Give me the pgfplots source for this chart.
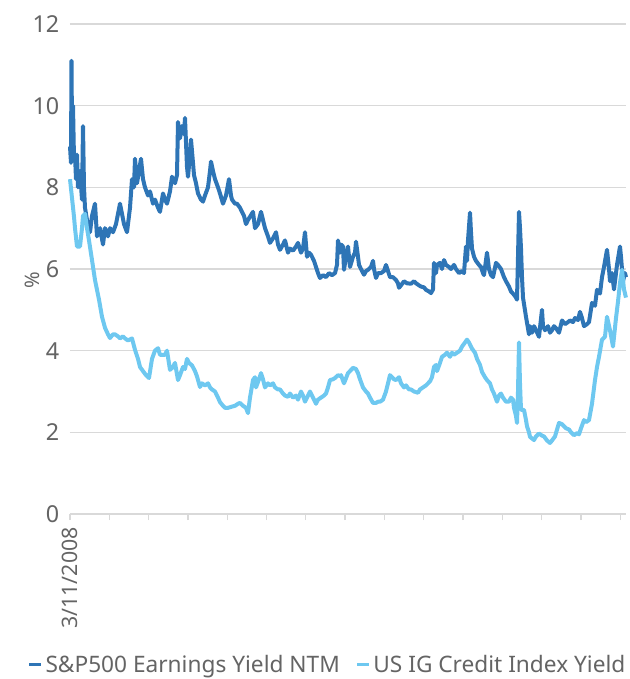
\documentclass[border=0pt]{standalone}
\usepackage{pgfplots}
\pgfplotsset{compat=1.18}
\usepackage{fontspec}
\setmainfont{Noto Sans}
\definecolor{darkblue}{RGB}{46,117,182}
\definecolor{lightblue}{RGB}{110,200,240}
\definecolor{txtgray}{RGB}{100,100,100}
\definecolor{gridgray}{RGB}{217,217,217}
\begin{document}
\begin{tikzpicture}
\begin{axis}[
  scale only axis,
  width=417pt, height=367.5pt,
  xmin=0, xmax=556, ymin=0, ymax=12,
  axis x line*=bottom,
  axis y line*=left,
  x axis line style={gridgray, line width=1.1pt},
  y axis line style={draw=none},
  /pgf/number format/assume math mode=true,
  ytick={0,2,4,6,8,10,12},
  ytick style={draw=none},
  ymajorgrids,
  grid style={gridgray, line width=1.1pt},
  xtick={0,39.3,78.6,117.9,157.2,196.5,235.8,275.1,314.4,353.7,393,432.3,471.6,510.9,550.2},
  xticklabels={3/11/2008,{},{},{},{},{},{},{},{},{},{},{},{},{},{}},
  xtick style={gridgray, line width=1pt},
  major tick length=4.5pt,
  tick align=outside,
  xticklabel style={rotate=90, anchor=east, font=\fontsize{16}{18}\selectfont, text=txtgray, xshift=-2pt},
  yticklabel style={font=\fontsize{17.5}{20}\selectfont, text=txtgray},
  yticklabel={\pgfmathprintnumber{\tick}},
  ylabel={\%},
  ylabel style={at={(axis description cs:0,0.478)}, anchor=south, yshift=19pt, font=\fontsize{15}{18}\selectfont, text=txtgray},
  legend columns=2,
  legend style={draw=none, fill=none, at={(0.464,-0.308)}, anchor=center, font=\fontsize{17}{19}\selectfont, text=txtgray, /tikz/every even column/.append style={column sep=10pt}, inner sep=0pt},
  legend image code/.code={\draw[#1, line width=2.2pt] (0pt,0pt) -- (9pt,0pt);},
  legend cell align=left,
  every axis plot/.append style={line width=3pt, line join=round},
  clip=false,
]
\addplot[darkblue] coordinates {
(0,9.0)(1,8.6)(1.5,11.1)(2.2,8.7)(3,10.0)(4,8.7)(5,8.8)(6,8.2)(7,8.8)(8,8.0)(10,8.4)(12,7.7)(13,9.5)(14,8.0)(15,7.5)(17,7.2)(20,6.9)(22,7.3)(25,7.6)(27,6.8)(30,7.0)(33,6.6)(35,7.0)(38,6.8)(40,7.0)(43,6.9)(46,7.1)(50,7.6)(54,7.1)(57,6.9)(60,7.5)(62,8.2)(64,8.0)(65,8.7)(67,8.1)(69,8.4)(71,8.7)(73,8.2)(75,8.0)(78,7.8)(80,7.9)(83,7.6)(85,7.7)(88,7.5)(90,7.4)(93,7.85)(95,7.7)(97,7.6)(100,7.9)(102,8.26)(105,8.1)(107,8.3)(108,9.6)(110,9.2)(112,9.5)(114,9.3)(115,9.7)(117,8.5)(118,8.26)(120,8.8)(121,9.17)(123,8.6)(124,8.3)(126,8.1)(128,7.85)(131,7.7)(133,7.65)(135,7.8)(138,8.0)(140,8.4)(141,8.63)(143,8.4)(145,8.2)(148,8.0)(150,7.85)(153,7.6)(156,7.8)(159,8.2)(161,7.8)(162,7.7)(165,7.6)(167,7.6)(170,7.5)(172,7.4)(174,7.3)(176,7.1)(178,7.2)(183,7.4)(185,7.0)(188,7.1)(191,7.4)(195,7.0)(198,6.8)(200,6.64)(203,6.75)(206,6.9)(208,6.6)(210,6.47)(213,6.6)(215,6.7)(218,6.4)(220,6.5)(223,6.45)(226,6.55)(228,6.64)(231,6.4)(233,6.5)(235,6.9)(237,6.3)(239,6.4)(241,6.35)(244,6.2)(246,6.05)(248,5.9)(250,5.78)(253,5.85)(256,5.8)(259,5.9)(262,5.85)(265,5.9)(267,6.1)(268,6.7)(270,6.4)(271,6.6)(273,6.55)(274,5.98)(276,6.3)(278,6.55)(280,6.05)(283,6.3)(285,6.4)(286,6.67)(288,6.3)(289,6.1)(291,6.0)(294,5.86)(296,5.95)(298,5.98)(301,6.05)(303,6.2)(304,6.0)(306,5.78)(308,5.9)(311,5.9)(314,5.95)(316,6.1)(318,5.95)(320,5.8)(323,5.8)(326,5.73)(328,5.65)(329,5.54)(331,5.6)(334,5.7)(337,5.65)(341,5.64)(344,5.7)(346,5.65)(349,5.6)(351,5.57)(354,5.55)(356,5.49)(359,5.45)(361,5.41)(363,5.5)(364,6.15)(366,5.9)(367,6.1)(370,6.15)(372,6.0)(374,6.22)(376,6.1)(379,6.05)(381,6.0)(384,6.1)(386,6.0)(389,5.9)(392,5.95)(394,5.9)(396,6.55)(397,6.2)(398,6.7)(400,7.38)(401,6.9)(402,6.5)(404,6.3)(406,6.2)(409,6.1)(411,6.05)(413,5.9)(414,5.85)(417,6.4)(419,6.0)(421,5.85)(423,5.8)(426,6.15)(428,6.1)(431,6.0)(434,5.8)(436,5.7)(439,5.57)(441,5.45)(444,5.37)(446,5.3)(447,5.25)(448,6.3)(449,7.4)(450,7.0)(451,6.5)(452,5.8)(453,5.3)(456,4.83)(459,4.4)(460,4.6)(462,4.44)(464,4.6)(466,4.5)(469,4.34)(472,5.0)(473,4.6)(475,4.5)(478,4.6)(480,4.44)(482,4.5)(484,4.6)(486,4.55)(489,4.44)(492,4.74)(495,4.65)(498,4.7)(500,4.74)(503,4.7)(505,4.8)(508,4.75)(510,4.95)(512,4.8)(514,4.6)(517,4.65)(519,4.7)(522,5.17)(525,5.1)(527,5.49)(530,5.4)(532,5.8)(534,6.05)(537,6.47)(539,6.0)(540,5.7)(542,5.9)(544,5.5)(547,6.1)(550,6.55)(551,6.3)(553,5.7)(555,5.9)(556,5.8)
};
\addlegendentry{S\&P500 Earnings Yield NTM}
\addplot[lightblue] coordinates {
(0,8.2)(1,7.97)(4,7.28)(5,7.0)(7,6.55)(10,6.55)(12,7.0)(13,7.3)(15,7.35)(17,7.0)(19,6.7)(22,6.22)(25,5.73)(29,5.25)(32,4.83)(35,4.56)(38,4.4)(40,4.31)(43,4.4)(45,4.4)(48,4.35)(50,4.3)(53,4.35)(55,4.3)(58,4.25)(62,4.3)(65,4.02)(68,3.8)(70,3.6)(73,3.5)(76,3.4)(79,3.33)(82,3.8)(85,4.0)(88,4.06)(90,3.9)(95,3.9)(97,4.0)(100,3.53)(103,3.6)(105,3.7)(108,3.28)(110,3.4)(113,3.6)(115,3.55)(117,3.8)(119,3.7)(122,3.64)(125,3.5)(127,3.37)(130,3.11)(132,3.2)(135,3.15)(138,3.2)(140,3.1)(142,3.05)(145,3.0)(148,2.85)(150,2.74)(153,2.65)(155,2.6)(158,2.6)(162,2.63)(165,2.65)(168,2.7)(170,2.72)(173,2.65)(176,2.6)(178,2.47)(180,2.85)(183,3.28)(185,3.35)(186,3.1)(189,3.3)(191,3.45)(193,3.3)(195,3.1)(198,3.2)(200,3.15)(203,3.2)(205,3.1)(208,3.05)(210,3.05)(213,2.95)(215,2.9)(218,2.87)(220,2.95)(223,2.85)(226,2.9)(228,2.8)(231,3.0)(233,2.9)(235,2.75)(238,2.9)(240,3.0)(243,2.85)(246,2.7)(248,2.8)(251,2.85)(254,2.9)(256,2.95)(258,3.1)(260,3.28)(263,3.3)(265,3.33)(268,3.4)(270,3.38)(271,3.4)(274,3.2)(278,3.45)(280,3.5)(283,3.58)(286,3.55)(288,3.45)(290,3.3)(293,3.1)(296,3.0)(298,2.95)(300,2.85)(303,2.72)(306,2.72)(308,2.75)(310,2.75)(313,2.8)(316,3.0)(318,3.2)(320,3.4)(322,3.35)(324,3.3)(326,3.28)(329,3.35)(331,3.2)(334,3.1)(336,3.15)(339,3.05)(341,3.05)(344,3.0)(348,2.97)(350,3.05)(353,3.1)(356,3.15)(358,3.2)(360,3.25)(362,3.35)(364,3.6)(366,3.65)(367,3.5)(370,3.7)(372,3.85)(375,3.9)(377,3.95)(380,3.85)(382,3.95)(384,3.9)(387,3.95)(390,4.0)(392,4.1)(395,4.2)(397,4.27)(399,4.2)(402,4.05)(405,3.95)(407,3.8)(410,3.65)(412,3.48)(415,3.35)(417,3.28)(420,3.2)(422,3.05)(424,2.95)(427,2.75)(429,2.9)(431,2.95)(433,2.85)(436,2.75)(439,2.75)(441,2.85)(443,2.8)(444,2.6)(446,2.4)(447,2.23)(448,3.0)(449,4.2)(450,3.2)(451,2.55)(454,2.55)(456,2.3)(457,2.15)(459,2.0)(460,1.89)(462,1.85)(464,1.81)(466,1.9)(469,1.97)(472,1.92)(474,1.9)(477,1.8)(480,1.74)(482,1.8)(485,1.9)(489,2.23)(492,2.2)(494,2.15)(496,2.1)(499,2.07)(501,2.0)(504,1.93)(507,1.98)(509,1.95)(511,2.1)(514,2.3)(516,2.25)(519,2.3)(522,2.7)(525,3.28)(527,3.6)(529,3.85)(532,4.27)(535,4.34)(537,4.83)(540,4.5)(543,4.1)(546,4.8)(548,5.2)(550,5.66)(552,5.98)(554,5.5)(556,5.3)
};
\addlegendentry{US IG Credit Index Yield}
\end{axis}
\pgfresetboundingbox
\path[use as bounding box] (-52.5pt,-123.75pt) rectangle (420pt,385.5pt);
\end{tikzpicture}
\end{document}
